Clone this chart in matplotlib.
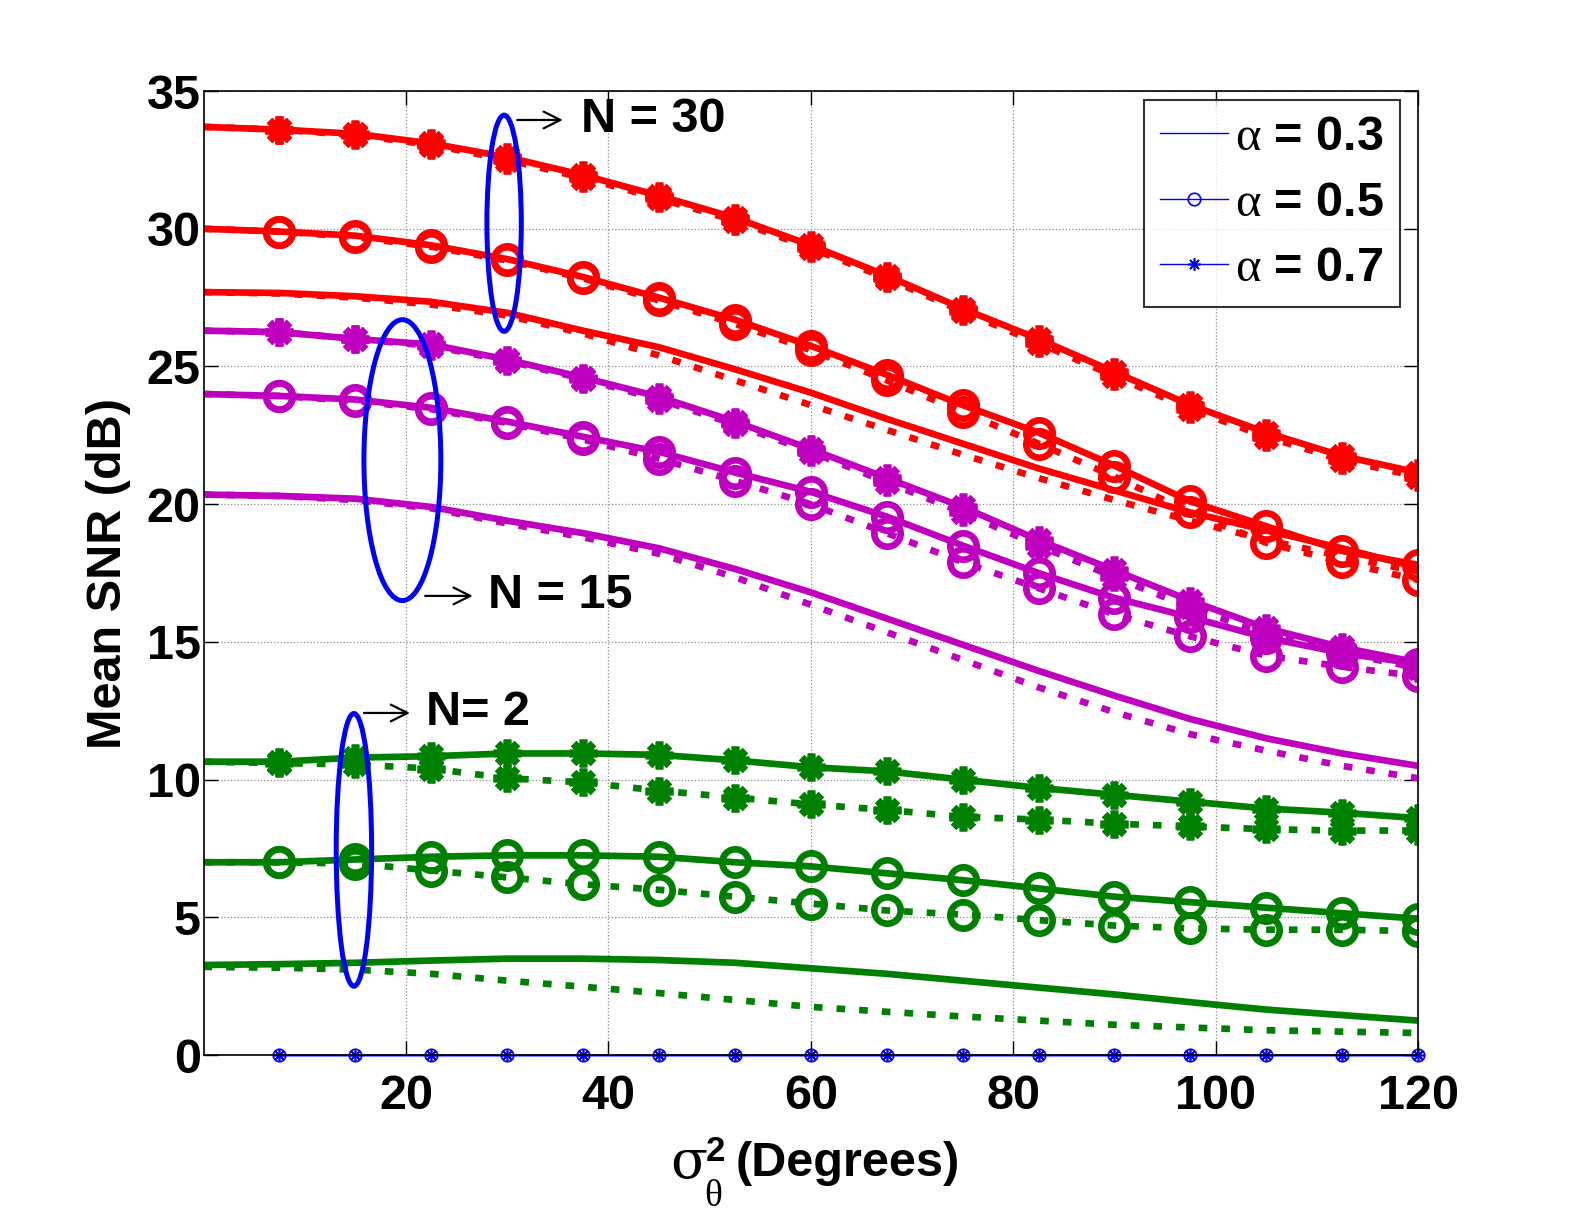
import numpy as np
import matplotlib
matplotlib.use('Agg')
import matplotlib.pyplot as plt
from matplotlib.patches import Ellipse

plt.rcParams['font.family'] = ['Liberation Sans', 'DejaVu Sans']
plt.rcParams['mathtext.fontset'] = 'custom'
plt.rcParams['mathtext.rm'] = 'Liberation Serif'
plt.rcParams['mathtext.it'] = 'Liberation Serif:italic'
plt.rcParams['mathtext.bf'] = 'Liberation Sans:bold'

# sigma_theta^2 grid (degrees)
x = np.arange(17) * 7.5

# N = 30 (red)
n30_a07 = [33.7, 33.6, 33.45, 33.1, 32.6, 31.95, 31.2, 30.4, 29.4, 28.3, 27.1, 26.0, 24.8, 23.6, 22.6, 21.75, 21.15]
n30_a07_d = [33.7, 33.6, 33.4, 33.05, 32.5, 31.85, 31.1, 30.3, 29.3, 28.2, 27.0, 25.85, 24.65, 23.45, 22.45, 21.6, 21.0]
n30_a05 = [30.0, 29.9, 29.75, 29.4, 28.9, 28.25, 27.5, 26.7, 25.75, 24.7, 23.6, 22.6, 21.4, 20.1, 19.2, 18.3, 17.8]
n30_a05_d = [30.0, 29.9, 29.7, 29.35, 28.85, 28.2, 27.4, 26.55, 25.6, 24.5, 23.35, 22.2, 21.0, 19.7, 18.6, 17.9, 17.25]
n30_a03 = [27.7, 27.67, 27.55, 27.35, 26.95, 26.3, 25.7, 24.9, 24.05, 23.1, 22.2, 21.3, 20.5, 19.7, 19.05, 18.4, 17.7]
n30_a03_d = [27.7, 27.65, 27.5, 27.25, 26.85, 26.2, 25.4, 24.5, 23.6, 22.7, 21.8, 20.95, 20.15, 19.4, 18.7, 18.1, 17.55]

# N = 15 (magenta)
n15_a07 = [26.3, 26.25, 26.0, 25.8, 25.25, 24.6, 23.9, 23.0, 22.0, 20.95, 19.9, 18.7, 17.6, 16.5, 15.5, 14.8, 14.25]
n15_a07_d = [26.3, 26.25, 26.0, 25.75, 25.2, 24.55, 23.8, 22.9, 21.9, 20.8, 19.7, 18.5, 17.35, 16.25, 15.3, 14.6, 14.05]
n15_a05 = [24.0, 23.93, 23.8, 23.5, 23.0, 22.45, 21.9, 21.15, 20.45, 19.55, 18.5, 17.5, 16.6, 15.9, 15.15, 14.6, 14.2]
n15_a05_d = [24.0, 23.93, 23.75, 23.45, 22.95, 22.35, 21.65, 20.85, 20.0, 18.95, 17.9, 16.95, 16.0, 15.2, 14.5, 14.1, 13.75]
n15_a03 = [20.35, 20.3, 20.2, 19.9, 19.4, 18.95, 18.4, 17.65, 16.8, 15.85, 14.9, 13.95, 13.05, 12.2, 11.5, 10.95, 10.5]
n15_a03_d = [20.35, 20.3, 20.15, 19.85, 19.3, 18.8, 18.2, 17.35, 16.35, 15.35, 14.35, 13.35, 12.45, 11.65, 11.05, 10.5, 10.05]

# N = 2 (green)
n2_a07 = [10.65, 10.65, 10.8, 10.85, 10.95, 10.95, 10.9, 10.7, 10.45, 10.3, 10.0, 9.7, 9.45, 9.2, 8.95, 8.8, 8.6]
n2_a07_d = [10.65, 10.6, 10.55, 10.4, 10.05, 9.9, 9.6, 9.35, 9.1, 8.9, 8.65, 8.55, 8.4, 8.3, 8.2, 8.15, 8.15]
n2_a05 = [7.0, 7.0, 7.1, 7.2, 7.25, 7.25, 7.2, 7.0, 6.85, 6.6, 6.35, 6.05, 5.75, 5.55, 5.35, 5.15, 4.95]
n2_a05_d = [7.0, 7.0, 6.95, 6.7, 6.45, 6.2, 6.0, 5.75, 5.5, 5.25, 5.1, 4.9, 4.7, 4.6, 4.55, 4.55, 4.5]
n2_a03 = [3.27, 3.3, 3.35, 3.43, 3.5, 3.5, 3.45, 3.35, 3.15, 2.95, 2.7, 2.45, 2.2, 1.92, 1.65, 1.45, 1.25]
n2_a03_d = [3.2, 3.17, 3.1, 2.95, 2.7, 2.48, 2.25, 2.0, 1.75, 1.57, 1.4, 1.25, 1.1, 1.0, 0.9, 0.85, 0.8]

alpha_labels = ['0.3', '0.5', '0.7']
xticks = [20, 40, 60, 80, 100, 120]
yticks = [0, 5, 10, 15, 20, 25, 30, 35]

red = (1, 0, 0)
mag = (0.75, 0, 0.75)
green = (0, 0.5, 0)
star = (8, 2, 0)
dots = (0, (1.3, 2.1))

groups = [
    (red, [(n30_a03, n30_a03_d, None), (n30_a05, n30_a05_d, 'o'), (n30_a07, n30_a07_d, star)]),
    (mag, [(n15_a03, n15_a03_d, None), (n15_a05, n15_a05_d, 'o'), (n15_a07, n15_a07_d, star)]),
    (green, [(n2_a03, n2_a03_d, None), (n2_a05, n2_a05_d, 'o'), (n2_a07, n2_a07_d, star)]),
]

W, H = 1580, 1219
fig = plt.figure(figsize=(W / 100, H / 100), dpi=100)
ax = fig.add_axes([0.1288, 0.1345, 0.7687, 0.7908])

for col, curves in groups:
    for ys, yd, mk in curves:
        kw = dict(color=col, lw=4.8)
        if mk == 'o':
            kw.update(marker=mk, markevery=slice(1, None), ms=19, mew=4.8, mfc='none', mec=col)
        elif mk is not None:
            kw.update(marker=mk, markevery=slice(1, None), ms=20, mew=5.5, mec=col)
        ax.plot(x, ys, '-', **kw)
        ax.plot(x, yd, linestyle=dots, **kw)

# blue legend dummies at zero
h1, = ax.plot(x[1:], np.zeros(16), 'b-', lw=1, clip_on=False, zorder=2)
h2, = ax.plot(x[1:], np.zeros(16), 'b-', marker='o', ms=9, mfc='none', mew=1.2, lw=1, clip_on=False, zorder=2)
h3, = ax.plot(x[1:], np.zeros(16), 'b-', marker=star, ms=9, mew=1.2, lw=1, clip_on=False, zorder=2)

leg = ax.legend([h1, h2, h3], [r'$\mathrm{\alpha}$ = ' + a for a in alpha_labels],
                loc='upper right', bbox_to_anchor=(0.985, 0.991), borderaxespad=0,
                prop=dict(weight='bold', size=35), frameon=True, fancybox=False,
                edgecolor='black', handlelength=1.4, handletextpad=0.15,
                labelspacing=0.42, borderpad=0.32)
leg.get_frame().set_linewidth(1.5)

# ellipses
for (xc, yc, w, h) in [(29.7, 30.2, 3.4, 7.85), (19.65, 21.6, 7.6, 10.2), (14.86, 7.45, 3.5, 9.9)]:
    ax.add_patch(Ellipse((xc, yc), w, h, fill=False, edgecolor='blue', lw=3.6, zorder=6))

# arrows + labels
for (xa, xb, xt, yy, s) in [(31.0, 35.5, 37.3, 33.95, 'N = 30'),
                            (21.9, 26.6, 28.1, 16.67, 'N = 15'),
                            (15.85, 20.4, 22.0, 12.42, 'N= 2')]:
    ax.annotate('', xy=(xb, yy), xytext=(xa, yy),
                arrowprops=dict(arrowstyle='->', lw=1.6, color='black',
                                mutation_scale=30, shrinkA=0, shrinkB=0))
    ax.text(xt, yy, s, fontsize=35, fontweight='bold', va='center', ha='left')

ax.set_xlim(0, 120)
ax.set_ylim(0, 35)
ax.set_xticks(xticks, [str(v) for v in xticks], fontsize=35, fontweight='bold')
ax.set_yticks(yticks, [str(v) for v in yticks], fontsize=35, fontweight='bold')
ax.tick_params(direction='in', length=10, width=1, top=True, right=True)
ax.tick_params(axis='x', pad=14)
ax.tick_params(axis='y', pad=2)
ax.grid(True, linestyle=':', color='0.55', lw=0.9)
for s in ax.spines.values():
    s.set_linewidth(1.2)

ax.set_ylabel('Mean SNR (dB)', fontsize=35, fontweight='bold', labelpad=11.5)

# x label built from pieces: sigma, sub theta, bold superscript 2
fig.text(670 / W, 1 - 1178 / H, 'σ', fontsize=39, family='DejaVu Serif', va='baseline')
fig.text(706 / W, 1 - 1161 / H, '2', fontsize=25, fontweight='bold', va='baseline')
fig.text(704 / W, 1 - 1206 / H, 'θ', fontsize=27, family='Liberation Serif', va='baseline')
fig.text(736 / W, 1 - 1176 / H, '(Degrees)', fontsize=35, fontweight='bold', va='baseline')

fig.savefig('out.png', dpi=100)
